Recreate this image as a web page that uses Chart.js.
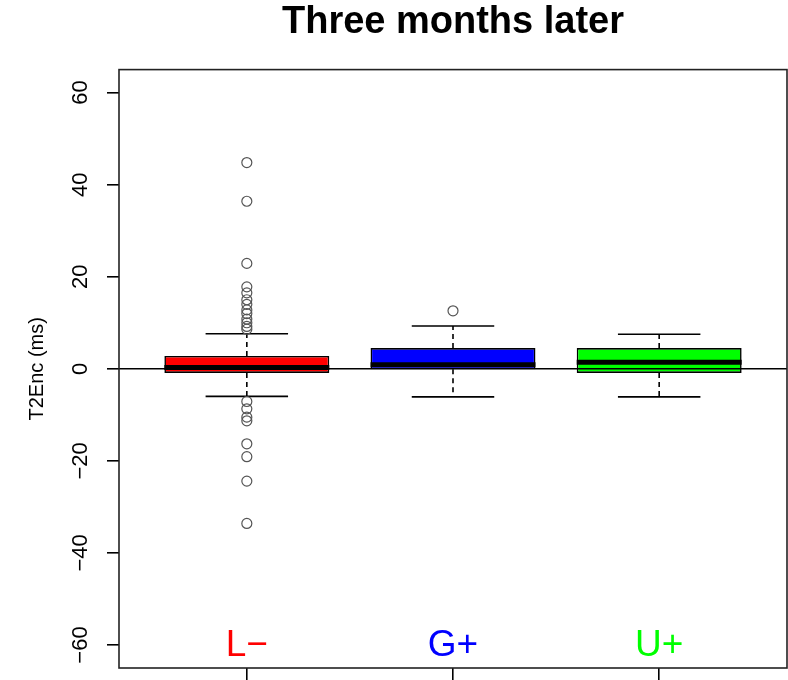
<!DOCTYPE html>
<html>
<head>
<meta charset="utf-8">
<script src="https://cdn.jsdelivr.net/npm/chart.js@4/dist/chart.umd.min.js"></script>
<style>
  html, body { margin: 0; padding: 0; background: #fff; }
  #wrap { width: 788px; height: 680px; }
</style>
</head>
<body>
<div id="wrap"><canvas id="c" width="788" height="680"></canvas></div>
<script>
// Groups and their fill colours
const groups = ['L\u2212', 'G+', 'U+'];
const groupColors = ['#FF0000', '#0000FF', '#00FF00'];

// Five-number summaries per group (ms)
const q1 = [-0.9, -0.1, -0.9];
const medians = [0.3, 0.9, 1.4];
const q3 = [2.8, 4.5, 4.5];
const whiskerLow = [-6.0, -6.1, -6.1];
const whiskerHigh = [7.6, 9.3, 7.5];

// Points beyond the whiskers
const outliersL = [44.8, 36.4, 22.9, 17.8, 16.5, 15.0, 14.0, 12.8, 12.0, 10.8, 10.0, 9.2, 8.6,
                   -7.1, -8.7, -10.5, -11.3, -16.3, -19.1, -24.4, -33.6];
const outliersG = [12.6];
const outliersU = [];

// Axis ticks
const yTicks = [-60, -40, -20, 0, 20, 40, 60];

const FONT = '"Liberation Sans", Arial, Helvetica, sans-serif';
Chart.defaults.font.family = FONT;

const boxData = groups.map((g, i) => ({ x: i + 1, y: [q1[i], q3[i]] }));
const outlierData = [outliersL, outliersG, outliersU]
  .flatMap((arr, i) => arr.map(v => ({ x: i + 1, y: v })));

// Whiskers, medians, reference line, group names and plot frame, placed through the chart scales
const boxExtras = {
  id: 'boxExtras',
  beforeDatasetsDraw(chart) {
    const { ctx, scales: { x, y } } = chart;
    ctx.save();
    ctx.strokeStyle = '#000';
    ctx.lineWidth = 1.6;
    groups.forEach((g, i) => {
      const cx = x.getPixelForValue(i + 1);
      const capHalf = x.getPixelForValue(i + 1.2) - cx;
      // dashed stems
      ctx.setLineDash([5, 4]);
      ctx.beginPath();
      ctx.moveTo(cx, y.getPixelForValue(q3[i]));
      ctx.lineTo(cx, y.getPixelForValue(whiskerHigh[i]));
      ctx.moveTo(cx, y.getPixelForValue(q1[i]));
      ctx.lineTo(cx, y.getPixelForValue(whiskerLow[i]));
      ctx.stroke();
      // caps
      ctx.setLineDash([]);
      const yh = y.getPixelForValue(whiskerHigh[i]);
      const yl = y.getPixelForValue(whiskerLow[i]);
      ctx.beginPath();
      ctx.moveTo(cx - capHalf, yh); ctx.lineTo(cx + capHalf, yh);
      ctx.moveTo(cx - capHalf, yl); ctx.lineTo(cx + capHalf, yl);
      ctx.stroke();
    });
    ctx.restore();
  },
  afterDatasetsDraw(chart) {
    const { ctx, chartArea: a, scales: { x, y } } = chart;
    ctx.save();
    ctx.strokeStyle = '#000';
    // medians
    ctx.lineWidth = 5;
    groups.forEach((g, i) => {
      const cx = x.getPixelForValue(i + 1);
      const half = x.getPixelForValue(i + 1.4) - cx;
      const ym = y.getPixelForValue(medians[i]);
      ctx.beginPath();
      ctx.moveTo(cx - half, ym); ctx.lineTo(cx + half, ym);
      ctx.stroke();
    });
    // horizontal reference at zero
    ctx.lineWidth = 1.6;
    const y0 = y.getPixelForValue(0);
    ctx.beginPath();
    ctx.moveTo(a.left, y0); ctx.lineTo(a.right, y0);
    ctx.stroke();
    // group names along the bottom of the plot
    ctx.font = '37px ' + FONT;
    ctx.textAlign = 'center';
    ctx.textBaseline = 'alphabetic';
    groups.forEach((g, i) => {
      ctx.fillStyle = groupColors[i];
      ctx.fillText(g, x.getPixelForValue(i + 1), y.getPixelForValue(-62.3));
    });
    // frame
    ctx.strokeStyle = '#222';
    ctx.lineWidth = 1.6;
    ctx.strokeRect(a.left, a.top, a.right - a.left, a.bottom - a.top);
    ctx.restore();
  }
};

new Chart(document.getElementById('c'), {
  type: 'bar',
  data: {
    datasets: [
      {
        type: 'bar',
        data: boxData,
        backgroundColor: groupColors,
        borderColor: '#000',
        borderWidth: 1.6,
        borderSkipped: false,
        categoryPercentage: 1,
        barPercentage: 0.8,
        order: 2
      },
      {
        type: 'scatter',
        data: outlierData,
        pointRadius: 5,
        pointBorderColor: '#555',
        pointBackgroundColor: 'rgba(0,0,0,0)',
        pointBorderWidth: 1.2,
        order: 1
      }
    ]
  },
  options: {
    responsive: false,
    animation: false,
    devicePixelRatio: 1,
    layout: { autoPadding: false, padding: { left: 0, right: 1, top: 0, bottom: 0 } },
    plugins: {
      legend: { display: false },
      tooltip: { enabled: false },
      title: {
        display: true,
        fullSize: false,
        text: 'Three months later',
        color: '#000',
        font: { size: 38, weight: 'bold' },
        padding: { top: 0, bottom: 24 }
      }
    },
    scales: {
      x: {
        type: 'linear',
        min: 0.38,
        max: 3.62,
        offset: false,
        afterBuildTicks: s => { s.ticks = groups.map((g, i) => ({ value: i + 1 })); },
        afterFit: s => { s.height = 12; s.paddingLeft = 0; s.paddingRight = 0; },
        grid: { offset: false, drawOnChartArea: false, drawTicks: true, tickLength: 12, color: '#000', lineWidth: 1.6 },
        border: { display: false },
        ticks: { display: false, autoSkip: false }
      },
      y: {
        min: -65,
        max: 65,
        afterBuildTicks: s => { s.ticks = yTicks.map(v => ({ value: v })); },
        afterFit: s => { s.width = 119; s.paddingTop = 0; s.paddingBottom = 0; },
        grid: { drawOnChartArea: false, tickLength: 12, color: '#000', lineWidth: 1.6 },
        border: { display: false },
        ticks: {
          minRotation: 90,
          maxRotation: 90,
          crossAlign: 'center',
          padding: 7,
          color: '#000',
          font: { size: 22 },
          callback: v => (v < 0 ? '\u2212' : '') + Math.abs(v)
        },
        title: {
          display: true,
          text: 'T2Enc (ms)',
          color: '#000',
          font: { size: 20 },
          padding: { top: 25, bottom: 0 }
        }
      }
    }
  },
  plugins: [boxExtras]
});
</script>
</body>
</html>
